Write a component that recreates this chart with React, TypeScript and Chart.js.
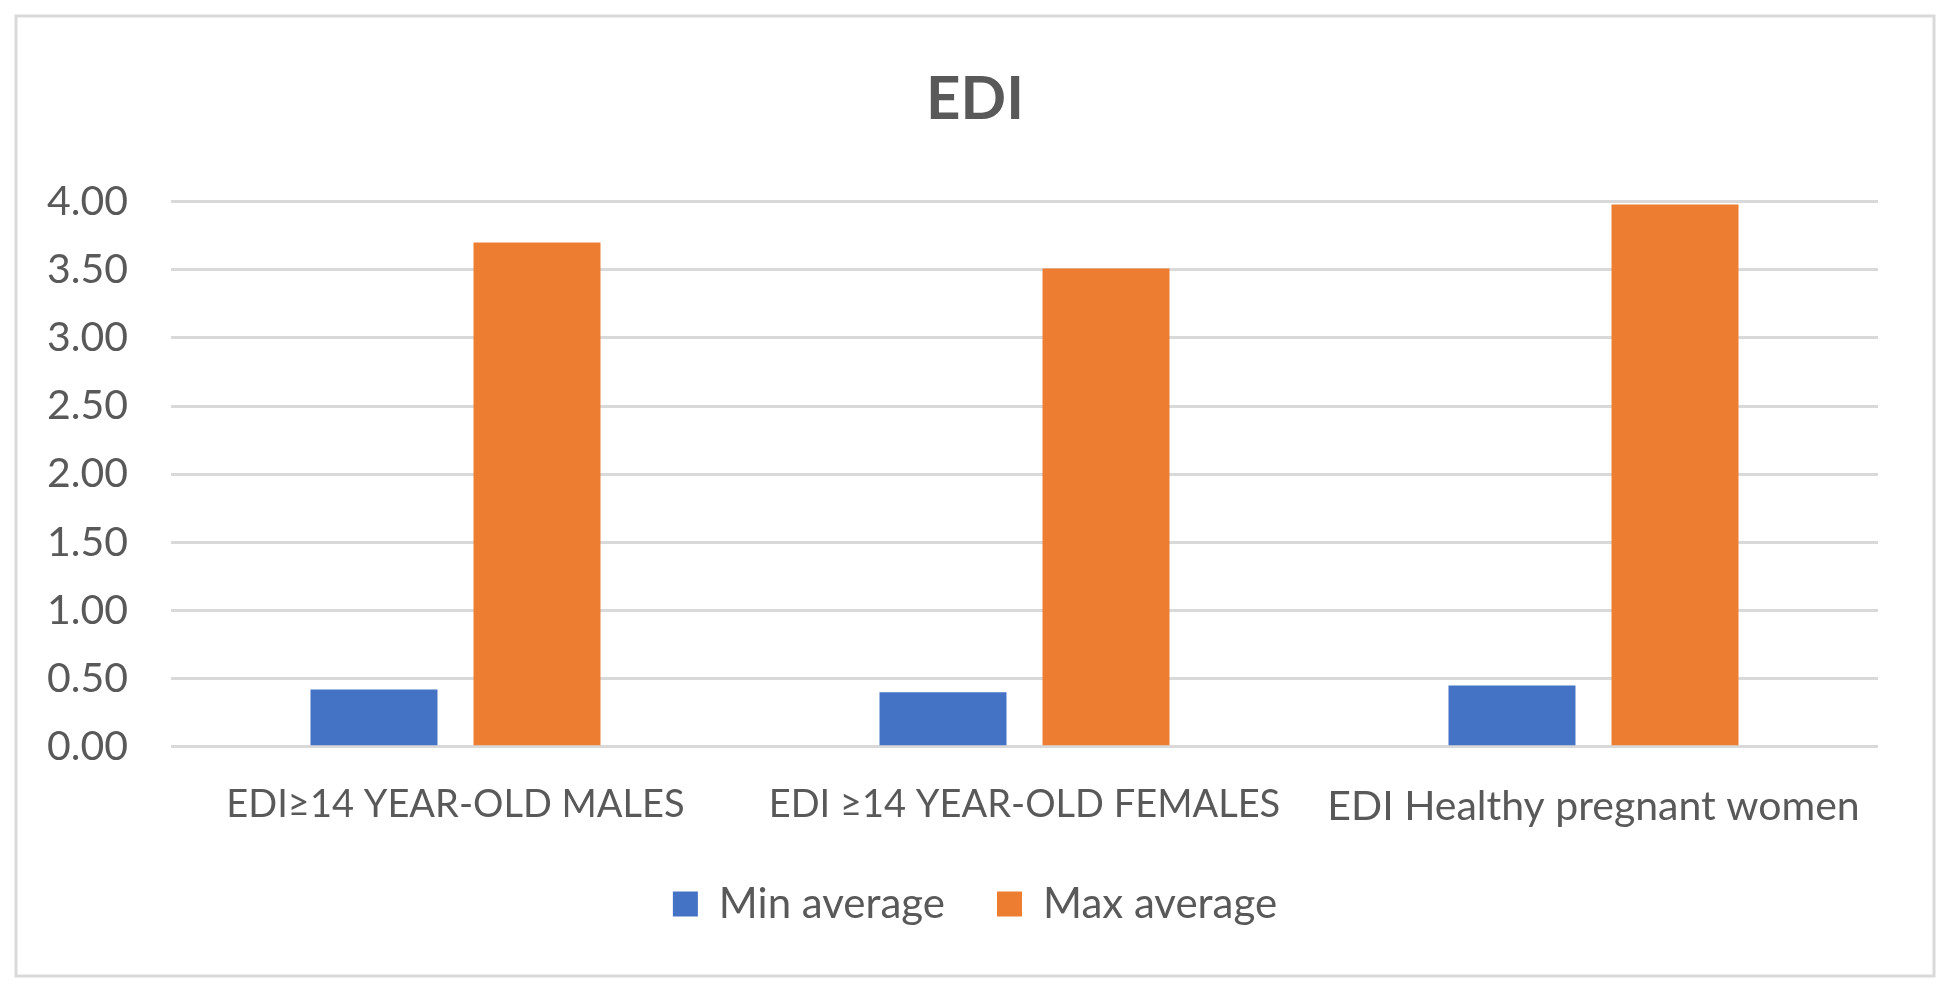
import React, { useEffect, useRef } from "react";
import { Chart, registerables } from "chart.js";

Chart.register(...registerables);

const titleText = "EDI";
const categories = [
  "EDI≥14 YEAR-OLD MALES",
  "EDI ≥14 YEAR-OLD FEMALES",
  "EDI Healthy pregnant women",
];
const categoryFontSizes = [38, 38, 41];
const seriesNames = ["Min average", "Max average"];
const minAverage = [0.42, 0.4, 0.45];
const maxAverage = [3.7, 3.51, 3.98];
const yMin = 0;
const yMax = 4;
const yStep = 0.5;

const BLUE = "#4472C4";
const ORANGE = "#ED7D31";
const TEXT = "#595959";
const GRID = "#D9D9D9";
const FONT = "Lato, 'Noto Sans', sans-serif";

const framePlugin = {
  id: "frame",
  beforeDraw(chart: any) {
    const { ctx, width, height } = chart;
    ctx.save();
    ctx.fillStyle = "#FFFFFF";
    ctx.fillRect(0, 0, width, height);
    ctx.strokeStyle = GRID;
    ctx.lineWidth = 3;
    ctx.strokeRect(16, 16, 1918, 960);
    ctx.restore();
  },
};

export default function App() {
  const ref = useRef<HTMLCanvasElement | null>(null);

  useEffect(() => {
    if (!ref.current) return;
    const chart = new Chart(ref.current, {
      type: "bar",
      data: {
        labels: categories,
        datasets: [
          {
            label: seriesNames[0],
            data: minAverage,
            backgroundColor: BLUE,
            categoryPercentage: 0.573,
            barPercentage: 0.779,
          },
          {
            label: seriesNames[1],
            data: maxAverage,
            backgroundColor: ORANGE,
            categoryPercentage: 0.573,
            barPercentage: 0.779,
          },
        ],
      },
      options: {
        animation: false,
        responsive: false,
        devicePixelRatio: 1,
        maintainAspectRatio: false,
        layout: { padding: { left: 0, right: 0, top: 0, bottom: 59 } },
        plugins: {
          title: {
            display: true,
            text: titleText,
            color: TEXT,
            font: { family: FONT, size: 60, weight: "bold" },
            padding: { top: 64, bottom: 65.7 },
          },
          legend: {
            display: true,
            position: "bottom",
            labels: {
              color: TEXT,
              font: { family: FONT, size: 42 },
              boxWidth: 25,
              boxHeight: 25,
              padding: 52,
            },
          },
          tooltip: { enabled: false },
        },
        scales: {
          x: {
            grid: { display: false, drawTicks: false },
            border: { display: false },
            ticks: {
              color: TEXT,
              font: (ctx: any) => ({
                family: FONT,
                size: categoryFontSizes[ctx.index] ?? 38,
              }),
              padding: 35,
              maxRotation: 0,
              autoSkip: false,
            },
            afterFit: (scale: any) => {
              scale.height = 84.3;
            },
          },
          y: {
            min: yMin,
            max: yMax,
            grid: { color: GRID, lineWidth: 3, drawTicks: false },
            border: { display: false },
            ticks: {
              stepSize: yStep,
              color: TEXT,
              font: { family: FONT, size: 41 },
              padding: 43,
              callback: (v: any) => Number(v).toFixed(2),
            },
            afterFit: (scale: any) => {
              scale.width = 171;
            },
          },
          yRight: {
            type: "linear",
            position: "right",
            display: true,
            grid: { display: false, drawTicks: false },
            border: { display: false },
            ticks: { display: false },
            afterFit: (scale: any) => {
              scale.width = 72;
            },
          },
        },
      },
      plugins: [framePlugin],
    });
    return () => chart.destroy();
  }, []);

  return (
    <div style={{ position: "absolute", left: 0, top: 0, width: 1950, height: 994 }}>
      <canvas ref={ref} width={1950} height={994} style={{ display: "block", width: 1950, height: 994 }} />
    </div>
  );
}
